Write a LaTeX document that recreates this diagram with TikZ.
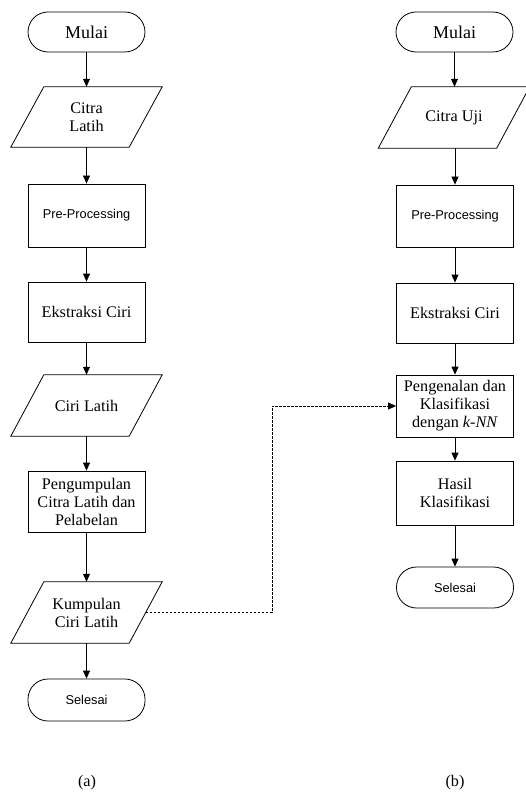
\documentclass[tikz,border=0pt]{standalone}
\usepackage{fontspec}
\setmainfont{Liberation Serif}
\newfontfamily\arialf{Liberation Sans}
\usetikzlibrary{calc,arrows.meta}
\begin{document}
\begin{tikzpicture}[x=1pt,y=-1pt,
  every node/.style={font=\fontsize{16.2}{18}\selectfont, align=center, inner sep=1pt},
  term/.style={draw, line width=0.8pt, rounded corners=20pt, minimum width=117pt, minimum height=40pt},
  proc/.style={draw, line width=0.8pt, minimum width=117pt, minimum height=61pt},
  iobox/.style={minimum width=118pt, minimum height=60pt},
  sm/.style={font=\arialf\fontsize{12.8}{15}\selectfont},
  big/.style={font=\fontsize{18}{21}\selectfont},
  arr/.style={line width=0.8pt, -{Triangle[length=8pt,width=7pt]}},
  darr/.style={line width=0.7pt, dash pattern=on 2.5pt off 1.5pt, -{Triangle[length=8pt,width=7pt]}}]
\useasboundingbox (0,0) rectangle (525,802);
% column (a)
\node[term,big] (ma) at (86.5,32) {Mulai};
\node[iobox] (cla) at (86.5,117) {Citra\\Latih};
\node[proc,sm,minimum height=63pt] (ppa) at (86.5,215.5) {Pre-Processing};
\node[proc,minimum height=60pt] (eca) at (86.5,312) {Ekstraksi Ciri};
\node[iobox,minimum height=61pt] (cila) at (86.5,405.5) {Ciri Latih};
\node[proc] (pga) at (86.5,501.5) {Pengumpulan\\Citra Latih dan\\Pelabelan};
\node[iobox,minimum height=61pt] (kca) at (86.5,612.5) {Kumpulan\\Ciri Latih};
\node[term,sm,minimum height=42pt] (sa) at (86.5,700) {Selesai};
\node (la) at (87,783) {(a)};
% column (b)
\node[term,big] (mb) at (454.5,32) {Mulai};
\node[iobox,minimum height=61pt] (cub) at (454,117.5) {Citra Uji};
\node[proc,sm,minimum height=62pt] (ppb) at (455,216) {Pre-Processing};
\node[proc,minimum height=60pt] (ecb) at (455,313) {Ekstraksi Ciri};
\node[proc,minimum height=62pt] (pkb) at (455,406) {Pengenalan dan\\Klasifikasi\\dengan \textit{k-NN}};
\node[proc,minimum height=64pt] (hkb) at (455,493) {Hasil\\Klasifikasi};
\node[term,sm,minimum height=41pt] (sb) at (455,587.5) {Selesai};
\node (lb) at (455,783) {(b)};
% parallelogram outlines
\foreach \n in {cla,cila,kca,cub}{
  \draw[line width=0.8pt] ($(\n.south west)+(-16.5,0)$) -- ($(\n.south east)+(-16.5,0)$)
     -- ($(\n.north east)+(16.5,0)$) -- ($(\n.north west)+(16.5,0)$) -- cycle;
}
% arrows (a)
\draw[arr] (ma) -- (cla);
\draw[arr] (cla) -- (ppa);
\draw[arr] (ppa) -- (eca);
\draw[arr] (eca) -- (cila);
\draw[arr] (cila) -- (pga);
\draw[arr] (pga) -- (kca);
\draw[arr] (kca) -- (sa);
% arrows (b)
\draw[arr] (mb) -- (cub.north -| mb.south);
\draw[arr] (cub.south -| ppb.north) -- (ppb);
\draw[arr] (ppb) -- (ecb);
\draw[arr] (ecb) -- (pkb);
\draw[arr] (pkb) -- (hkb);
\draw[arr] (hkb) -- (sb);
% dashed link
\coordinate (d1) at (272,612.5);
\coordinate (d2) at (272,406);
\draw[darr] (kca.east) -- (d1) -- (d2) -- (pkb.west);
\end{tikzpicture}
\end{document}
